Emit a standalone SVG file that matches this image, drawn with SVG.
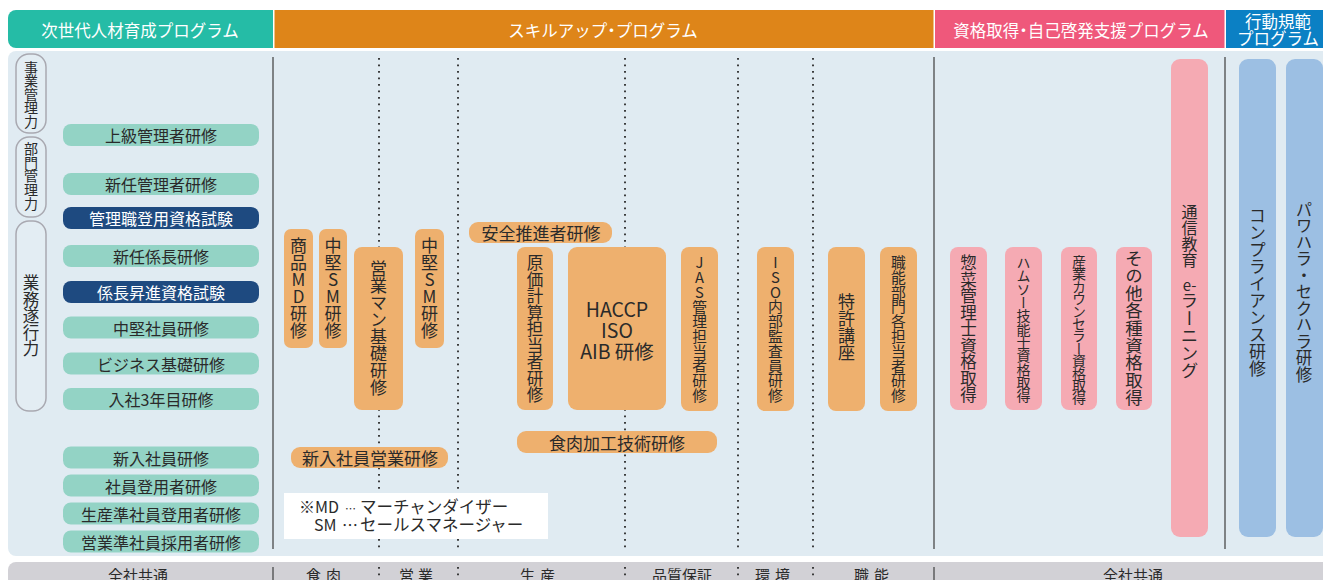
<svg xmlns="http://www.w3.org/2000/svg" width="1323" height="580" viewBox="0 0 1323 580">
<style>
text{font-family:"Noto Sans CJK JP","Noto Sans",sans-serif;fill:#2a2a2a;}
.h{fill:#fff;font-size:16.5px;text-anchor:middle;dominant-baseline:central;}
.c{text-anchor:middle;dominant-baseline:central;font-size:16px;}
.w{fill:#fff;}
.v{writing-mode:vertical-rl;text-orientation:upright;text-anchor:middle;}
.gp{fill:#93d3c5;}
.np{fill:#1e4a80;}
.ob{fill:#eeb06e;}
.pb{fill:#f5aab3;}
.bb{fill:#9cbfe3;}
.lab{fill:#e3edf3;stroke:#a9a9b1;stroke-width:1.5;}
.sl{stroke:#4a4a4a;stroke-width:1.3;fill:none;}
.dl{stroke:#2a2a2a;stroke-width:1.8;stroke-dasharray:1.8 4.7;fill:none;}
.bt{font-size:15px;text-anchor:middle;}
</style>

<!-- panels -->
<g id="background">
<rect x="8" y="51" width="1330" height="505" rx="8" fill="#e0ebf2"/>
<rect x="8" y="562" width="1330" height="30" rx="8" fill="#d2d1d6"/>
</g>

<!-- headers -->
<g id="header-jisedai">
<path d="M16 10 H273 V48 H16 a8 8 0 0 1 -8 -8 V18 a8 8 0 0 1 8 -8 Z" fill="#25bca6"/>
<text class="h" x="140" y="30">次世代人材育成プログラム</text>
</g>
<g id="header-skillup">
<rect x="274.5" y="10" width="659" height="38" fill="#de8519"/>
<text class="h" x="603" y="30">スキルアップ<tspan dx="-4">・</tspan><tspan dx="-4">プログラム</tspan></text>
</g>
<g id="header-shikaku">
<rect x="935" y="10" width="289.5" height="38" fill="#ef587b"/>
<text class="h" x="1081" y="30">資格取得<tspan dx="-4">・</tspan><tspan dx="-4">自己啓発支援プログラム</tspan></text>
</g>
<g id="header-kodo">
<rect x="1226" y="10" width="97" height="38" fill="#0b80c4"/>
<text class="h" x="1278" y="21" style="font-size:16.5px">行動規範</text>
<text class="h" x="1278" y="38" style="font-size:16.5px">プログラム</text>
</g>

<!-- dividers -->
<g id="connectors">
<line class="sl" x1="273" y1="57" x2="273" y2="549"/>
<line class="sl" x1="934" y1="57" x2="934" y2="549"/>
<line class="sl" x1="1225" y1="57" x2="1225" y2="549"/>
<line class="dl" x1="379" y1="58" x2="379" y2="550"/>
<line class="dl" x1="458" y1="58" x2="458" y2="550"/>
<line class="dl" x1="625" y1="58" x2="625" y2="550"/>
<line class="dl" x1="738" y1="58" x2="738" y2="550"/>
<line class="dl" x1="813" y1="58" x2="813" y2="550"/>
<line class="sl" x1="273" y1="567" x2="273" y2="580"/>
<line class="sl" x1="934" y1="567" x2="934" y2="580"/>
<line class="dl" x1="379" y1="567" x2="379" y2="580"/>
<line class="dl" x1="458" y1="567" x2="458" y2="580"/>
<line class="dl" x1="625" y1="567" x2="625" y2="580"/>
<line class="dl" x1="738" y1="567" x2="738" y2="580"/>
<line class="dl" x1="813" y1="567" x2="813" y2="580"/>
</g>

<!-- level labels -->
<g id="label-jigyo">
<rect class="lab" x="16" y="54" width="30" height="79" rx="13"/>
<text class="v" x="31" y="94" style="font-size:14px;letter-spacing:-0.5px">事業管理力</text>
</g>
<g id="label-bumon">
<rect class="lab" x="16" y="137" width="30" height="80" rx="13"/>
<text class="v" x="31" y="176" style="font-size:14px;letter-spacing:-0.3px">部門管理力</text>
</g>
<g id="label-gyomu">
<rect class="lab" x="16" y="221" width="30" height="190" rx="13"/>
<text class="v" x="31" y="316" style="font-size:16.5px">業務遂行力</text>
</g>

<!-- green / navy pills -->
<g id="n-jokyu"><rect class="gp" x="63" y="124" width="196" height="22" rx="8"/><text class="c" x="161" y="135">上級管理者研修</text></g>
<g id="n-shinnin-kanri"><rect class="gp" x="63" y="173" width="196" height="22" rx="8"/><text class="c" x="161" y="184">新任管理者研修</text></g>
<g id="n-kanrishoku"><rect class="np" x="63" y="207" width="196" height="22" rx="8"/><text class="c w" x="161" y="218">管理職登用資格試験</text></g>
<g id="n-shinnin-kakari"><rect class="gp" x="63" y="245" width="196" height="22" rx="8"/><text class="c" x="161" y="256">新任係長研修</text></g>
<g id="n-kakari-shoshin"><rect class="np" x="63" y="281" width="196" height="22" rx="8"/><text class="c w" x="161" y="292">係長昇進資格試験</text></g>
<g id="n-chuken"><rect class="gp" x="63" y="316.5" width="196" height="22" rx="8"/><text class="c" x="161" y="327.5">中堅社員研修</text></g>
<g id="n-business"><rect class="gp" x="63" y="352.5" width="196" height="22" rx="8"/><text class="c" x="161" y="363.5">ビジネス基礎研修</text></g>
<g id="n-3nen"><rect class="gp" x="63" y="388" width="196" height="22" rx="8"/><text class="c" x="161" y="399">入社3年目研修</text></g>
<g id="n-shinnyu"><rect class="gp" x="63" y="446.5" width="196" height="22" rx="8"/><text class="c" x="161" y="457.5">新入社員研修</text></g>
<g id="n-toyo"><rect class="gp" x="63" y="474.5" width="196" height="22" rx="8"/><text class="c" x="161" y="485.5">社員登用者研修</text></g>
<g id="n-seisan-jun"><rect class="gp" x="63" y="502.5" width="196" height="22" rx="8"/><text class="c" x="161" y="513.5">生産準社員登用者研修</text></g>
<g id="n-eigyo-jun"><rect class="gp" x="63" y="530.5" width="196" height="22" rx="8"/><text class="c" x="161" y="541.5">営業準社員採用者研修</text></g>

<!-- orange: skill up -->
<g id="n-shohin-md"><rect class="ob" x="284" y="229" width="29" height="119" rx="7"/><text class="v" x="298.5" y="288.5" style="font-size:17px">商品MD研修</text></g>
<g id="n-chuken-sm1"><rect class="ob" x="319" y="229" width="28" height="119" rx="7"/><text class="v" x="333" y="288.5" style="font-size:17px">中堅SM研修</text></g>
<g id="n-eigyoman"><rect class="ob" x="354" y="247" width="49" height="163" rx="8"/><text class="v" x="378.5" y="328.5" style="font-size:17px">営業マン基礎研修</text></g>
<g id="n-chuken-sm2"><rect class="ob" x="415" y="229" width="29" height="119" rx="7"/><text class="v" x="429.5" y="288.5" style="font-size:17px">中堅SM研修</text></g>
<g id="n-anzen"><rect class="ob" x="469" y="222" width="143" height="21" rx="9"/><text class="c" x="541" y="232.5" style="font-size:17px">安全推進者研修</text></g>
<g id="n-genka"><rect class="ob" x="517" y="247" width="36" height="163" rx="8"/><text class="v" x="535" y="329" style="font-size:16.5px">原価計算担当者研修</text></g>
<g id="n-haccp"><rect class="ob" x="568" y="247" width="98" height="163" rx="9"/>
<text x="617" y="317" style="font-size:19.5px;text-anchor:middle">HACCP</text>
<text x="617" y="338" style="font-size:19.5px;text-anchor:middle">ISO</text>
<text x="617" y="359" style="font-size:19.5px;text-anchor:middle">AIB 研修</text></g>
<g id="n-jas"><rect class="ob" x="681" y="247" width="37" height="164" rx="8"/><text class="v" x="699.5" y="329" style="font-size:14.7px">JAS管理担当者研修</text></g>
<g id="n-iso-naibu"><rect class="ob" x="757" y="247" width="37" height="164" rx="8"/><text class="v" x="775.5" y="329" style="font-size:14.8px">ISO内部監査員研修</text></g>
<g id="n-tokkyo"><rect class="ob" x="828" y="247" width="37" height="164" rx="8"/><text class="v" x="846.5" y="327" style="font-size:17px">特許講座</text></g>
<g id="n-shokuno"><rect class="ob" x="880" y="247" width="37" height="164" rx="8"/><text class="v" x="898.5" y="329" style="font-size:14.8px">職能部門各担当者研修</text></g>
<g id="n-shokuniku"><rect class="ob" x="517" y="431" width="200" height="22" rx="9"/><text class="c" x="617" y="442" style="font-size:17px">食肉加工技術研修</text></g>
<g id="n-shinnyu-eigyo"><rect class="ob" x="291" y="447" width="157" height="21" rx="9"/><text class="c" x="370" y="457.5" style="font-size:17px">新入社員営業研修</text></g>

<!-- note -->
<g id="note">
<rect x="284" y="493" width="264" height="46" fill="#ffffff"/>
<text x="299" y="513" style="font-size:16px">※MD</text>
<text x="345" y="513" style="font-size:11px">…</text>
<text x="360" y="513" style="font-size:16.5px">マーチャンダイザー</text>
<text x="314" y="531" style="font-size:16px">SM</text>
<text x="342" y="531" style="font-size:16px">…</text>
<text x="360" y="531" style="font-size:16.5px">セールスマネージャー</text>
</g>

<!-- pink: qualifications -->
<g id="n-sozai"><rect class="pb" x="950" y="247" width="37" height="163" rx="8"/><text class="v" x="968.5" y="329" style="font-size:16.5px">惣菜管理士資格取得</text></g>
<g id="n-hamuso"><rect class="pb" x="1005" y="247" width="37" height="163" rx="8"/><text class="v" x="1023.5" y="329" style="font-size:14px;letter-spacing:-0.7px">ハムソー技能士資格取得</text></g>
<g id="n-sangyo"><rect class="pb" x="1061" y="247" width="36" height="163" rx="8"/><text class="v" x="1079" y="329" style="font-size:14px;letter-spacing:-1.6px">産業カウンセラー資格取得</text></g>
<g id="n-sonota"><rect class="pb" x="1116" y="247" width="36" height="163" rx="8"/><text class="v" x="1134" y="328" style="font-size:17.4px">その他各種資格取得</text></g>
<g id="n-tsushin"><rect class="pb" x="1171" y="59" width="37" height="478" rx="9"/>
<text class="v" x="1189.5" y="204" style="font-size:16px;text-anchor:start">通信教育</text>
<text x="1189.5" y="284" style="font-size:15px;text-anchor:middle;dominant-baseline:central">e-</text>
<text class="v" x="1189.5" y="292" style="font-size:17.5px;text-anchor:start">ラーニング</text>
</g>

<!-- blue: code of conduct -->
<g id="n-compliance"><rect class="bb" x="1239" y="59" width="37" height="478" rx="9"/><text class="v" x="1257.5" y="292" style="font-size:17px">コンプライアンス研修</text></g>
<g id="n-pawahara"><rect class="bb" x="1286" y="59" width="37" height="478" rx="9"/><text class="v" x="1304" y="292" style="font-size:16.5px">パワハラ・セクハラ研修</text></g>

<!-- bottom bar labels -->
<g id="bottom-labels">
<text class="bt" x="138" y="581">全社共通</text>
<text class="bt" x="326" y="581" style="letter-spacing:5px">食肉</text>
<text class="bt" x="418" y="581" style="letter-spacing:4px">営業</text>
<text class="bt" x="540" y="581" style="letter-spacing:5px">生産</text>
<text class="bt" x="682" y="581">品質保証</text>
<text class="bt" x="775" y="581" style="letter-spacing:5px">環境</text>
<text class="bt" x="874" y="581" style="letter-spacing:5px">職能</text>
<text class="bt" x="1133" y="581">全社共通</text>
</g>
</svg>
